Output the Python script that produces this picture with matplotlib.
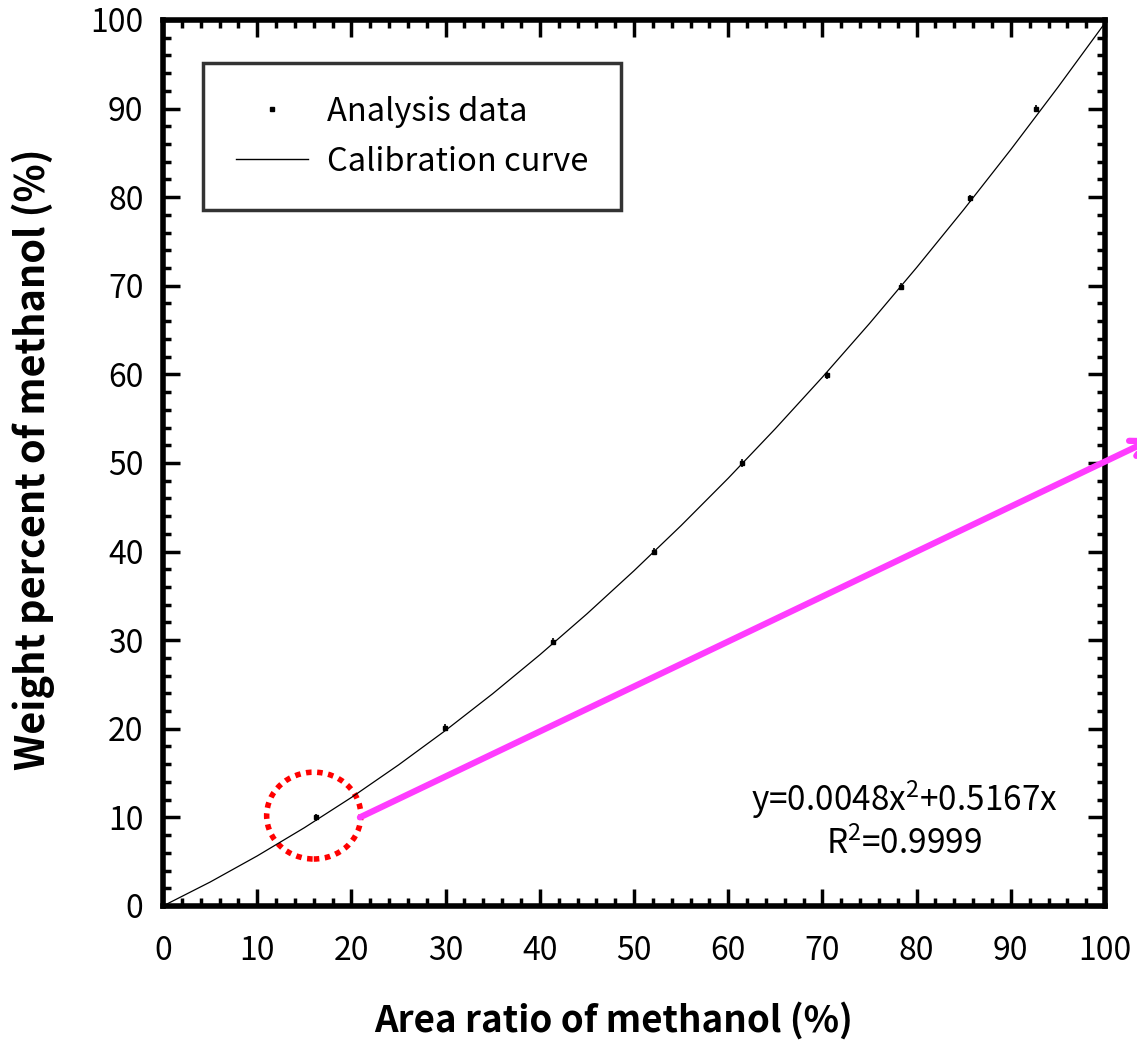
import numpy as np
import matplotlib
matplotlib.use('Agg')
import matplotlib.pyplot as plt
from matplotlib.patches import Ellipse
from matplotlib.lines import Line2D
from matplotlib.ticker import MultipleLocator

# dados
area_ratio = [16.2, 29.9, 41.4, 52.1, 61.5, 70.5, 78.3, 85.7, 92.7]
weight_pct = [10.0, 20.1, 29.8, 40.0, 50.0, 59.9, 69.9, 79.9, 90.0]
erro = [0.4, 0.4, 0.4, 0.4, 0.4, 0.4, 0.4, 0.4, 0.4]

curva_x = [0, 5, 10, 15, 20, 25, 30, 35, 40, 45, 50,
           55, 60, 65, 70, 75, 80, 85, 90, 95, 100]
curva_y = [0.0, 2.70, 5.65, 8.83, 12.25, 15.92, 19.82, 23.96, 28.35, 32.97, 37.84,
           42.94, 48.28, 53.87, 59.69, 65.75, 72.06, 78.60, 85.38, 92.41, 99.67]

equacao = 'y=0.0048x$^{2}$+0.5167x'
r2 = 'R$^{2}$=0.9999'

plt.rcParams['font.family'] = ['Noto Sans CJK KR', 'DejaVu Sans']
plt.rcParams['mathtext.fontset'] = 'custom'
plt.rcParams['mathtext.rm'] = 'Noto Sans CJK KR'

fig = plt.figure(figsize=(11.37, 10.51), dpi=100)
ax = fig.add_axes([0.1434, 0.138, 0.8285, 0.843])

ax.plot(curva_x, curva_y, color='black', lw=0.9)
ax.errorbar(area_ratio, weight_pct, yerr=erro, fmt='s', ms=2.5, color='black',
            elinewidth=1.2, capsize=0)

ax.set_xlim(0, 100)
ax.set_ylim(0, 100)
ax.xaxis.set_major_locator(MultipleLocator(10))
ax.xaxis.set_minor_locator(MultipleLocator(2))
ax.yaxis.set_major_locator(MultipleLocator(10))
ax.yaxis.set_minor_locator(MultipleLocator(2))
ax.tick_params(which='both', direction='in', top=True, right=True, width=2.5)
ax.tick_params(which='major', length=12, labelsize=23, pad=14)
ax.tick_params(which='minor', length=6)
ax.tick_params(axis='x', which='major', pad=21)
for s in ax.spines.values():
    s.set_linewidth(4)

ax.set_xlabel('Area ratio of methanol (%)', fontsize=26.5, fontweight='bold', va='center')
ax.xaxis.set_label_coords(0.478, -0.129)
ax.set_ylabel('Weight percent of methanol (%)', fontsize=28.5, fontweight='bold', va='center')
ax.yaxis.set_label_coords(-0.138, 0.5045)

handles = [Line2D([], [], ls='none', marker='s', ms=3, color='black'),
           Line2D([], [], color='black', lw=1.0)]
leg = ax.legend(handles, ['Analysis data', 'Calibration curve'], loc='upper left',
                bbox_to_anchor=(0.0425, 0.9515), fontsize=23.5, frameon=True,
                fancybox=False, edgecolor='black', borderpad=1.0, labelspacing=0.55,
                handlelength=2.2, handletextpad=0.6, borderaxespad=0)
leg.get_frame().set_linewidth(2.5)

ax.text(78.7, 12.0, equacao, fontsize=24, ha='center', va='center')
ax.text(78.7, 6.9, r2, fontsize=24, ha='center', va='center')

# destaque
circ = Ellipse((16.0, 10.2), 10.0, 9.8, fill=False, edgecolor='red', lw=4, ls=(0, (1, 1)))
ax.add_patch(circ)
ax.annotate('', xy=(105.2, 52.8), xytext=(20.9, 10.0), annotation_clip=False,
            arrowprops=dict(arrowstyle='->', color='#ff3cff', lw=4.5,
                            mutation_scale=30, shrinkA=0, shrinkB=0))

plt.savefig('out.png', dpi=100)
